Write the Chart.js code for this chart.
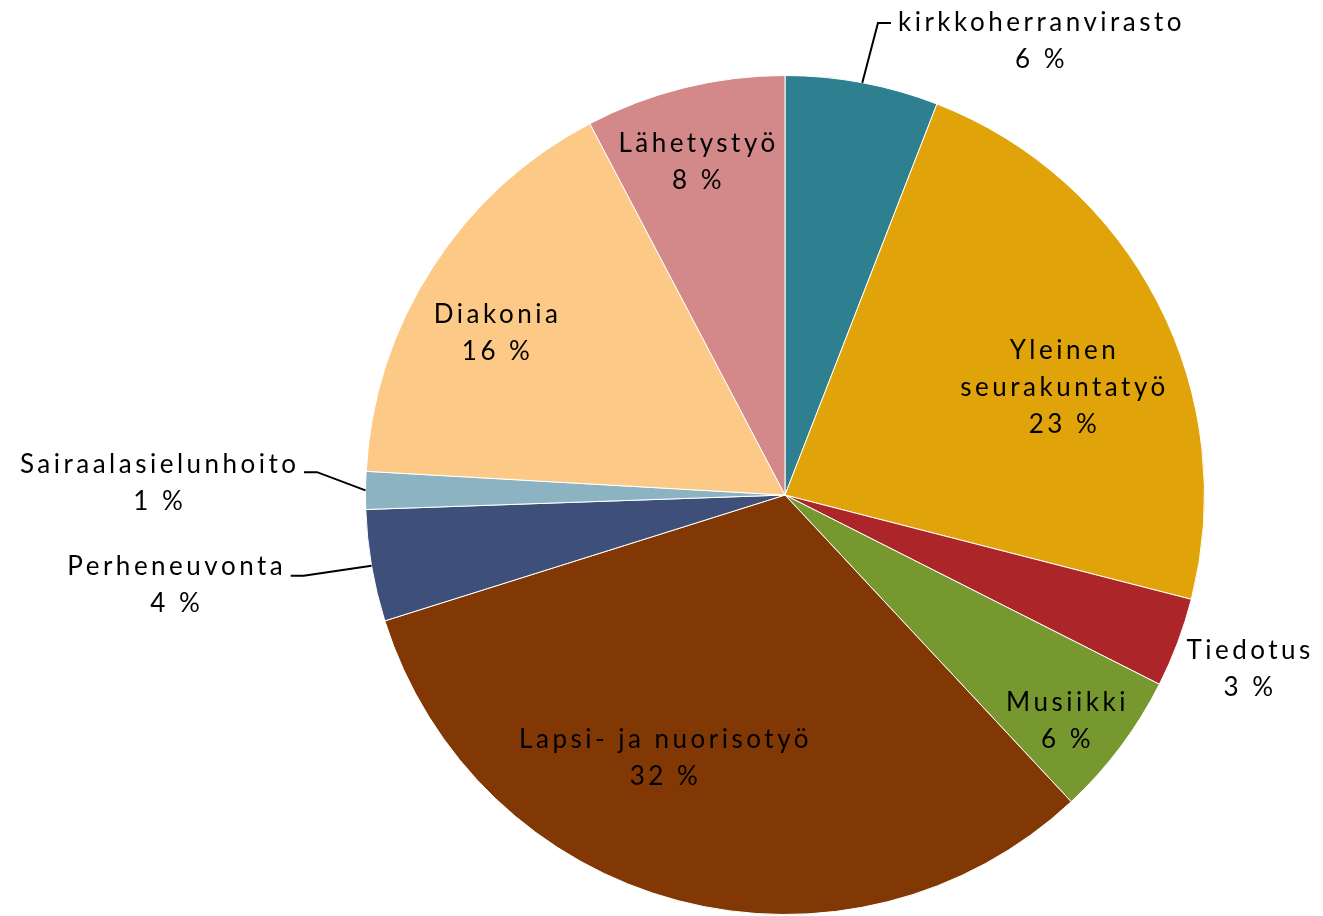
<!DOCTYPE html>
<html>
<head>
<meta charset="utf-8">
<script src="https://cdn.jsdelivr.net/npm/chart.js@4.4.0/dist/chart.umd.min.js"></script>
<style>
  html, body { margin: 0; padding: 0; background: #fff; }
  #wrap { width: 1323px; height: 916px; }
</style>
</head>
<body>
<div id="wrap"><canvas id="pie"></canvas></div>
<script>
// slices, clockwise from 12 o'clock
const categories = ['kirkkoherranvirasto', 'Yleinen\nseurakuntatyö', 'Tiedotus', 'Musiikki',
  'Lapsi- ja nuorisotyö', 'Perheneuvonta', 'Sairaalasielunhoito', 'Diakonia', 'Lähetystyö'];
const shares = [5.9, 23.1, 3.45, 5.6, 32.1, 4.3, 1.45, 16.4, 7.7];
const percentLabels = ['6 %', '23 %', '3 %', '6 %', '32 %', '4 %', '1 %', '16 %', '8 %'];
const colors = ['#2E7F8F', '#E0A30A', '#AC2528', '#76982F', '#823805',
  '#3E4F7A', '#8CB3C1', '#FDC987', '#D3888A'];

// where each label sits: turn from slice middle (deg), distance as part of radius,
// and which side a leader line comes in from (null = no line)
const labelLayout = [
  { dAngle: 18.7, r: 1.24, leader: 'left', leaderDy: 0 },
  { dAngle: 6, r: 0.71, leader: null },
  { dAngle: 0, r: 1.18, leader: null },
  { dAngle: 2, r: 0.86, leader: null },
  { dAngle: 10, r: 0.69, leader: null },
  { dAngle: 1.3, r: 1.47, leader: 'right', leaderDy: 9 },
  { dAngle: 0.5, r: 1.495, leader: 'right', leaderDy: 8 },
  { dAngle: -3.5, r: 0.79, leader: null },
  { dAngle: -1, r: 0.82, leader: null }
];

const sliceLabels = {
  id: 'sliceLabels',
  afterDatasetsDraw(chart) {
    const ctx = chart.ctx;
    const meta = chart.getDatasetMeta(0);
    ctx.save();
    ctx.font = '26px Lato';
    ctx.letterSpacing = '3.5px';
    ctx.fillStyle = '#000';
    ctx.strokeStyle = '#000';
    ctx.lineWidth = 2;
    ctx.textAlign = 'center';
    ctx.textBaseline = 'middle';
    meta.data.forEach((arc, i) => {
      const p = arc.getProps(['x', 'y', 'startAngle', 'endAngle', 'outerRadius'], true);
      const mid = (p.startAngle + p.endAngle) / 2;
      const lay = labelLayout[i];
      const a = mid + lay.dAngle * Math.PI / 180;
      const cx = p.x + Math.cos(a) * p.outerRadius * lay.r;
      const cy = p.y + Math.sin(a) * p.outerRadius * lay.r;
      const lines = categories[i].split('\n').concat(percentLabels[i]);
      const lh = 37;
      const top = cy - (lines.length - 1) * lh / 2;
      lines.forEach((t, k) => ctx.fillText(t, cx + 1.75, top + k * lh));

      if (lay.leader) {
        const w = ctx.measureText(lines[0]).width - 3.5;
        const ly = top + lay.leaderDy;
        const ex = p.x + Math.cos(mid) * p.outerRadius;
        const ey = p.y + Math.sin(mid) * p.outerRadius;
        let x0, x1;
        if (lay.leader === 'left') {
          x0 = cx - w / 2 - 7;
          x1 = x0 - 13;
        } else {
          x0 = cx + w / 2 + 8;
          x1 = x0 + 13;
        }
        ctx.beginPath();
        ctx.moveTo(x0, ly);
        ctx.lineTo(x1, ly);
        ctx.lineTo(ex, ey);
        ctx.stroke();
      }
    });
    ctx.restore();
  }
};

new Chart(document.getElementById('pie'), {
  type: 'pie',
  data: {
    labels: categories,
    datasets: [{
      data: shares,
      backgroundColor: colors,
      borderColor: '#fff',
      borderWidth: 1
    }]
  },
  options: {
    responsive: true,
    maintainAspectRatio: false,
    animation: false,
    layout: { padding: { left: 365, right: 118, top: 75, bottom: 1 } },
    plugins: {
      legend: { display: false },
      tooltip: { enabled: false }
    }
  },
  plugins: [sliceLabels]
});
</script>
</body>
</html>
